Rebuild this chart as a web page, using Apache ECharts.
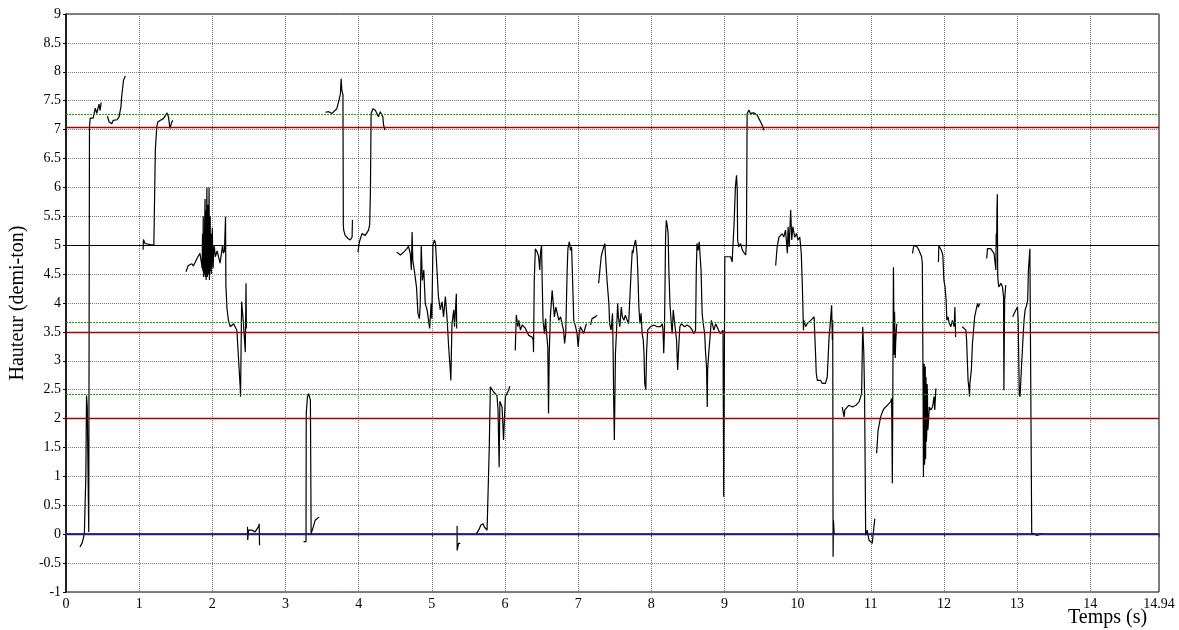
<!DOCTYPE html>
<html><head><meta charset="utf-8">
<script src="https://cdn.jsdelivr.net/npm/echarts@6/dist/echarts.min.js"></script>
<style>html,body{margin:0;padding:0;background:#fff}#c{width:1179px;height:630px}</style>
</head><body><div id="c"></div>
<script>
// Axis settings
const xMin = 0, xMax = 14.94, xStep = 1;
const yMin = -1, yMax = 9, yStep = 0.5;
const xTitle = 'Temps (s)';
const yTitle = 'Hauteur (demi-ton)';

// Reference levels (demi-ton)
const redLevels = [7.04, 3.5, 2];
const greenLevels = [7.26, 3.66, 2.42];
const blackLevels = [5];
const blueLevels = [0];

// Pitch trace segments: [time (s), height (demi-ton)]
const seg1 = [[0.19,-0.22],[0.22,-0.15],[0.25,0.0],[0.27,1.0],[0.28,2.4],[0.29,2.2],[0.31,0.04],[0.32,7.05],[0.33,7.2],[0.37,7.2],[0.40,7.37],[0.42,7.28],[0.45,7.44],[0.465,7.33],[0.48,7.47]];
const seg2 = [[0.565,7.23],[0.59,7.13],[0.625,7.1],[0.645,7.16],[0.695,7.17],[0.725,7.22],[0.74,7.33],[0.75,7.39],[0.76,7.57],[0.785,7.85],[0.81,7.93]];
const seg3 = [[1.053,4.92],[1.057,5.1],[1.08,5.03],[1.15,5.01],[1.20,5.0],[1.217,5.0],[1.22,6.64],[1.24,7.05],[1.255,7.13],[1.29,7.16],[1.33,7.19],[1.38,7.29],[1.40,7.22],[1.42,7.02],[1.445,7.13],[1.46,7.16]];
const seg4 = [[1.64,4.54],[1.67,4.65],[1.72,4.68],[1.74,4.64],[1.79,4.77],[1.81,4.8],[1.83,4.86],[1.85,4.7],[1.86,4.6],[1.865,5.2],[1.87,4.55],[1.875,5.5],[1.88,4.45],[1.885,5.1],[1.89,4.5],[1.895,5.4],[1.90,5.8],[1.905,4.45],[1.91,5.6],[1.915,4.4],[1.92,5.3],[1.925,6.0],[1.93,4.45],[1.935,4.5],[1.94,5.7],[1.945,4.5],[1.95,5.2],[1.955,6.0],[1.96,4.4],[1.965,5.1],[1.97,5.5],[1.975,4.55],[1.98,5.2],[1.985,4.5],[1.99,4.95],[2.0,5.3],[2.005,4.65],[2.01,4.6],[2.02,4.95],[2.025,5.0],[2.04,4.8],[2.065,4.9],[2.105,4.69],[2.14,5.0],[2.15,4.86],[2.165,4.9],[2.18,5.49],[2.185,4.3],[2.20,3.9],[2.22,3.7],[2.245,3.59],[2.29,3.64],[2.335,3.53],[2.36,3.5],[2.38,2.55],[2.385,2.38],[2.40,4.02],[2.425,3.64],[2.45,3.15],[2.46,4.34],[2.465,3.56]];
const seg5 = [[2.48,0.13],[2.483,-0.1],[2.495,0.07],[2.54,0.07],[2.585,0.04],[2.63,0.13],[2.64,0.18],[2.645,-0.19]];
const seg6 = [[3.246,-0.13],[3.28,-0.13],[3.283,2.09],[3.30,2.38],[3.315,2.43],[3.34,2.32],[3.35,0.01],[3.36,0.04],[3.38,0.13],[3.405,0.24],[3.43,0.27],[3.46,0.3]];
const seg7 = [[3.545,7.3],[3.59,7.31],[3.635,7.28],[3.655,7.26],[3.70,7.36],[3.725,7.48],[3.75,7.62],[3.76,7.88],[3.77,7.68],[3.785,7.6],[3.79,5.35],[3.795,5.26],[3.815,5.17],[3.85,5.12],[3.885,5.09],[3.91,5.14],[3.915,5.44]];
const seg8 = [[3.99,4.88],[4.01,5.06],[4.045,5.2],[4.07,5.23],[4.09,5.17],[4.135,5.26],[4.15,5.35],[4.16,5.89],[4.17,7.28],[4.195,7.36],[4.225,7.34],[4.25,7.28],[4.27,7.22],[4.295,7.31],[4.32,7.32],[4.33,7.22],[4.34,7.08],[4.36,6.99]];
const seg9 = [[4.52,4.88],[4.545,4.91],[4.57,4.83],[4.59,4.8],[4.615,4.88],[4.64,4.91],[4.66,4.94],[4.68,4.98],[4.705,4.86],[4.72,4.57],[4.73,5.23],[4.74,4.74],[4.76,4.57],[4.79,4.28],[4.81,3.82],[4.83,3.73],[4.84,3.93],[4.855,5.0],[4.87,4.39],[4.89,4.57],[4.91,3.99],[4.935,3.88],[4.955,3.7],[4.97,3.56],[4.99,3.99],[5.0,3.73],[5.015,5.0],[5.035,5.09],[5.05,5.03],[5.07,4.57],[5.09,4.11],[5.115,3.88],[5.14,4.02],[5.16,3.76],[5.185,4.11],[5.21,3.7],[5.23,3.24],[5.255,2.78],[5.26,2.66],[5.275,3.64],[5.30,3.88],[5.31,3.59],[5.335,4.16],[5.34,3.56]];
const seg10 = [[5.345,0.14],[5.346,-0.28],[5.365,-0.16],[5.39,-0.16]];
const seg11 = [[5.61,0.01],[5.64,0.07],[5.67,0.16],[5.70,0.18],[5.72,0.12],[5.755,0.07],[5.775,0.1],[5.785,1.5],[5.80,2.55],[5.825,2.52],[5.845,2.46],[5.87,2.43],[5.89,2.4],[5.905,2.15],[5.92,1.16],[5.93,2.3],[5.96,2.2],[5.98,1.63],[5.99,1.92],[6.005,2.38],[6.03,2.4],[6.05,2.49],[6.065,2.56]];
const seg12 = [[6.14,3.18],[6.155,3.79],[6.175,3.59],[6.19,3.7],[6.21,3.53],[6.235,3.62],[6.255,3.59],[6.28,3.56],[6.30,3.5],[6.325,3.44],[6.35,3.47],[6.37,3.41],[6.385,3.36],[6.39,3.15],[6.40,4.39],[6.415,4.94],[6.44,4.88],[6.46,4.8],[6.475,4.57],[6.485,4.86],[6.50,5.0],[6.51,4.28],[6.52,3.7],[6.54,3.47],[6.555,3.73],[6.565,3.53],[6.585,3.24],[6.595,2.09],[6.605,3.13],[6.62,3.76],[6.645,4.22],[6.66,3.99],[6.675,3.76],[6.695,3.93],[6.715,3.82],[6.735,3.7],[6.76,3.76],[6.78,3.64],[6.80,3.53],[6.815,3.3],[6.83,3.47],[6.85,4.57],[6.86,4.94],[6.88,5.06],[6.895,4.91],[6.91,4.97],[6.92,4.57],[6.94,3.7],[6.965,3.59],[6.985,3.47],[7.0,3.24],[7.015,3.47],[7.03,3.59],[7.055,3.53],[7.075,3.47],[7.10,3.59],[7.115,3.64]];
const seg13 = [[7.17,3.62],[7.19,3.73],[7.215,3.7],[7.235,3.76],[7.26,3.79]];
const seg14 = [[7.28,4.34],[7.295,4.54],[7.315,4.8],[7.33,4.88],[7.35,4.97],[7.365,5.03],[7.38,4.68],[7.395,4.39],[7.42,3.99],[7.43,3.64],[7.45,3.53],[7.47,3.82],[7.48,3.01],[7.485,2.38],[7.495,1.63],[7.51,3.13],[7.525,3.53],[7.54,3.99],[7.55,3.76],[7.57,3.59],[7.59,3.93],[7.605,3.76],[7.625,3.7],[7.645,3.79],[7.67,3.7],[7.69,3.64],[7.715,3.67],[7.725,4.57],[7.74,4.91],[7.75,4.86],[7.76,4.97],[7.785,5.09],[7.80,5.09],[7.805,4.86],[7.815,4.57],[7.83,3.93],[7.845,3.64],[7.86,3.82],[7.875,3.47],[7.89,3.36],[7.90,3.13],[7.91,2.61],[7.925,2.5],[7.935,3.13],[7.95,3.53],[7.965,3.56],[7.99,3.59],[8.035,3.62],[8.06,3.64],[8.08,3.59],[8.10,3.56],[8.125,3.59],[8.15,3.64],[8.16,3.53],[8.17,3.13],[8.18,3.53],[8.195,5.14],[8.205,5.43],[8.22,5.32],[8.23,5.2],[8.24,4.57],[8.255,3.99],[8.27,3.7],[8.285,3.47],[8.30,3.88],[8.32,3.64],[8.33,3.53],[8.345,3.36],[8.36,2.84],[8.375,3.24],[8.39,3.59],[8.41,3.64],[8.43,3.62],[8.455,3.59],[8.49,3.62],[8.525,3.59],[8.56,3.53],[8.58,3.47],[8.605,3.53],[8.615,4.57],[8.625,5.03],[8.64,4.91],[8.655,5.06],[8.67,5.09],[8.68,4.57],[8.695,3.82],[8.71,3.64],[8.73,3.47],[8.74,3.18],[8.755,2.89],[8.765,2.2],[8.77,2.84],[8.785,3.13],[8.80,3.36],[8.82,3.7],[8.835,3.64],[8.855,3.53],[8.88,3.64],[8.90,3.62],[8.92,3.53],[8.945,3.47],[8.97,3.44],[8.98,3.53],[8.99,0.65],[9.005,4.8],[9.015,4.77],[9.04,4.8],[9.06,4.77],[9.085,4.8],[9.105,4.71],[9.115,4.97],[9.13,5.32],[9.15,6.01],[9.165,6.21],[9.175,5.95],[9.18,5.09],[9.195,4.97],[9.22,5.03],[9.245,4.91],[9.265,4.94],[9.29,4.83],[9.30,5.03],[9.31,7.28],[9.335,7.34],[9.355,7.28],[9.40,7.29],[9.425,7.28],[9.45,7.25],[9.47,7.19],[9.495,7.13],[9.515,7.08],[9.54,6.99]];
const seg15 = [[9.70,4.65],[9.72,4.97],[9.745,5.14],[9.77,5.17],[9.79,5.2],[9.81,5.14],[9.835,5.26],[9.86,4.86],[9.87,5.32],[9.885,4.97],[9.905,5.61],[9.92,5.09],[9.935,5.32],[9.96,5.14],[9.985,5.2],[10.005,5.09],[10.03,5.14],[10.04,5.0],[10.05,4.86],[10.065,4.28],[10.08,3.53],[10.085,3.7],[10.11,3.59],[10.13,3.64],[10.155,3.67],[10.18,3.7],[10.20,3.73],[10.225,3.76],[10.235,3.79],[10.245,3.13],[10.255,2.78],[10.27,2.66],[10.29,2.64],[10.315,2.66],[10.335,2.61],[10.36,2.58],[10.38,2.61],[10.405,2.72],[10.43,3.41],[10.45,3.7],[10.465,3.96],[10.475,3.36],[10.48,3.7],[10.485,-0.39],[10.49,0.24],[10.50,0.0]];
const seg16 = [[10.61,2.2],[10.635,2.03],[10.645,2.15],[10.67,2.17],[10.70,2.23],[10.75,2.2],[10.795,2.23],[10.84,2.29],[10.86,2.32],[10.875,2.43],[10.885,3.24],[10.89,3.59],[10.905,3.13],[10.915,2.43],[10.925,0.93],[10.93,-0.02],[10.95,0.07],[10.975,-0.1],[11.0,-0.12],[11.02,-0.16],[11.045,-0.13],[11.055,0.27]];
const seg17 = [[11.08,1.4],[11.10,1.8],[11.11,1.86],[11.135,2.03],[11.16,2.12],[11.18,2.17],[11.205,2.2],[11.225,2.23],[11.25,2.26],[11.27,2.29],[11.285,2.35],[11.295,0.88],[11.31,4.62],[11.315,3.88],[11.32,3.1],[11.325,3.85],[11.33,3.53],[11.335,3.05],[11.34,3.3],[11.355,3.64]];
const seg18 = [[11.57,4.86],[11.59,5.0],[11.615,5.02],[11.635,4.97],[11.66,4.91],[11.68,4.88],[11.695,4.8],[11.705,4.68],[11.715,2.55],[11.72,0.99],[11.725,2.8],[11.73,2.95],[11.735,1.2],[11.74,1.45],[11.745,2.9],[11.75,1.3],[11.755,2.72],[11.76,1.6],[11.765,1.74],[11.77,2.6],[11.775,2.43],[11.78,1.8],[11.79,1.97],[11.80,2.2],[11.82,2.15],[11.845,2.2],[11.865,2.38],[11.875,2.15],[11.89,2.52]];
const seg19 = [[11.925,4.71],[11.93,5.0],[11.945,4.97],[11.965,4.91],[11.985,4.83],[12.0,4.39],[12.015,4.28],[12.03,4.05],[12.04,3.7],[12.055,3.76],[12.075,3.64],[12.095,3.59],[12.115,3.7],[12.14,3.59],[12.15,3.93],[12.16,3.41]];
const seg20 = [[12.25,3.59],[12.275,3.62],[12.30,3.53],[12.31,3.36],[12.32,3.01],[12.33,2.66],[12.34,2.55],[12.35,2.38],[12.355,2.61],[12.375,2.84],[12.39,3.3],[12.405,3.53],[12.42,3.76],[12.44,3.88],[12.46,3.99],[12.47,3.93],[12.49,3.99]];
const seg21 = [[12.585,4.77],[12.595,4.94],[12.62,4.97],[12.64,4.94],[12.665,4.91],[12.685,4.86],[12.71,4.57],[12.715,5.2],[12.72,4.97],[12.725,5.6],[12.73,5.88],[12.735,4.5],[12.74,4.39],[12.75,4.28],[12.78,4.34],[12.80,4.28],[12.815,4.11],[12.82,2.49],[12.83,4.05],[12.845,4.31]];
const seg22 = [[12.94,3.76],[12.96,3.82],[12.98,3.85],[13.005,3.93],[13.015,3.7],[13.03,2.43],[13.04,2.38],[13.06,2.89],[13.08,3.36],[13.095,3.7],[13.11,3.88],[13.13,3.96],[13.145,4.05],[13.155,4.57],[13.175,4.94],[13.19,4.97],[13.20,0.01],[13.23,0.01],[13.265,-0.02],[13.29,0.01],[13.35,0.01]];

const segments = [seg1,seg2,seg3,seg4,seg5,seg6,seg7,seg8,seg9,seg10,seg11,seg12,seg13,seg14,seg15,seg16,seg17,seg18,seg19,seg20,seg21,seg22];

// Build line data with gaps between segments
const traceData = [];
segments.forEach((s, i) => {
  if (i > 0) traceData.push([s[0][0], '-']);
  s.forEach(p => traceData.push(p));
});

const serif = 'Liberation Serif, Times New Roman, serif';
function levelLines(levels, style) {
  return levels.map(v => ({ yAxis: v, lineStyle: style }));
}
const refData = [].concat(
  levelLines(greenLevels, { color: '#1a9a1a', type: [2, 1], width: 1.2 }),
  levelLines(redLevels, { color: '#a80000', type: 'solid', width: 1.3 }),
  levelLines(blackLevels, { color: '#000000', type: 'solid', width: 1.2 }),
  levelLines(blueLevels, { color: '#1c1c9c', type: 'solid', width: 1.3 })
);

const chart = echarts.init(document.getElementById('c'), null, { renderer: 'canvas' });
chart.setOption({
  animation: false,
  backgroundColor: '#fff',
  grid: { left: 66, right: 20, top: 14, bottom: 38, show: true, borderColor: '#000', borderWidth: 1, backgroundColor: 'transparent' },
  xAxis: {
    type: 'value', min: xMin, max: xMax, interval: xStep,
    axisLine: { show: true, lineStyle: { color: '#444', width: 2 } },
    axisTick: { show: true, length: 3, lineStyle: { color: '#444' } },
    axisLabel: { fontFamily: serif, fontSize: 14, color: '#000', margin: 5, showMaxLabel: true, showMinLabel: true,
      formatter: v => String(Math.round(v * 100) / 100) },
    splitLine: { show: true, lineStyle: { color: '#777', type: [1, 1], width: 1 } }
  },
  yAxis: {
    type: 'value', min: yMin, max: yMax, interval: yStep,
    name: yTitle, nameLocation: 'middle', nameGap: 38, nameRotate: 90,
    nameTextStyle: { fontFamily: serif, fontSize: 20, color: '#000' },
    axisLine: { show: true, lineStyle: { color: '#000', width: 1.5 } },
    axisTick: { show: true, length: 3, lineStyle: { color: '#000' } },
    axisLabel: { fontFamily: serif, fontSize: 14, color: '#000', margin: 5,
      formatter: v => String(Math.round(v * 10) / 10) },
    splitLine: { show: true, lineStyle: { color: '#777', type: [1, 1], width: 1 } }
  },
  graphic: [{
    type: 'text', left: 1068, top: 608,
    style: { text: xTitle, font: '20px ' + serif, fill: '#000' }
  }],
  series: [
    {
      type: 'line', data: [], silent: true, z: 1,
      markLine: { silent: true, symbol: 'none', label: { show: false }, animation: false, data: refData }
    },
    {
      type: 'line', data: traceData, showSymbol: false, symbol: 'none', connectNulls: false,
      lineStyle: { color: '#000', width: 1.2 }, z: 3, silent: true
    }
  ]
});
</script>
</body></html>
